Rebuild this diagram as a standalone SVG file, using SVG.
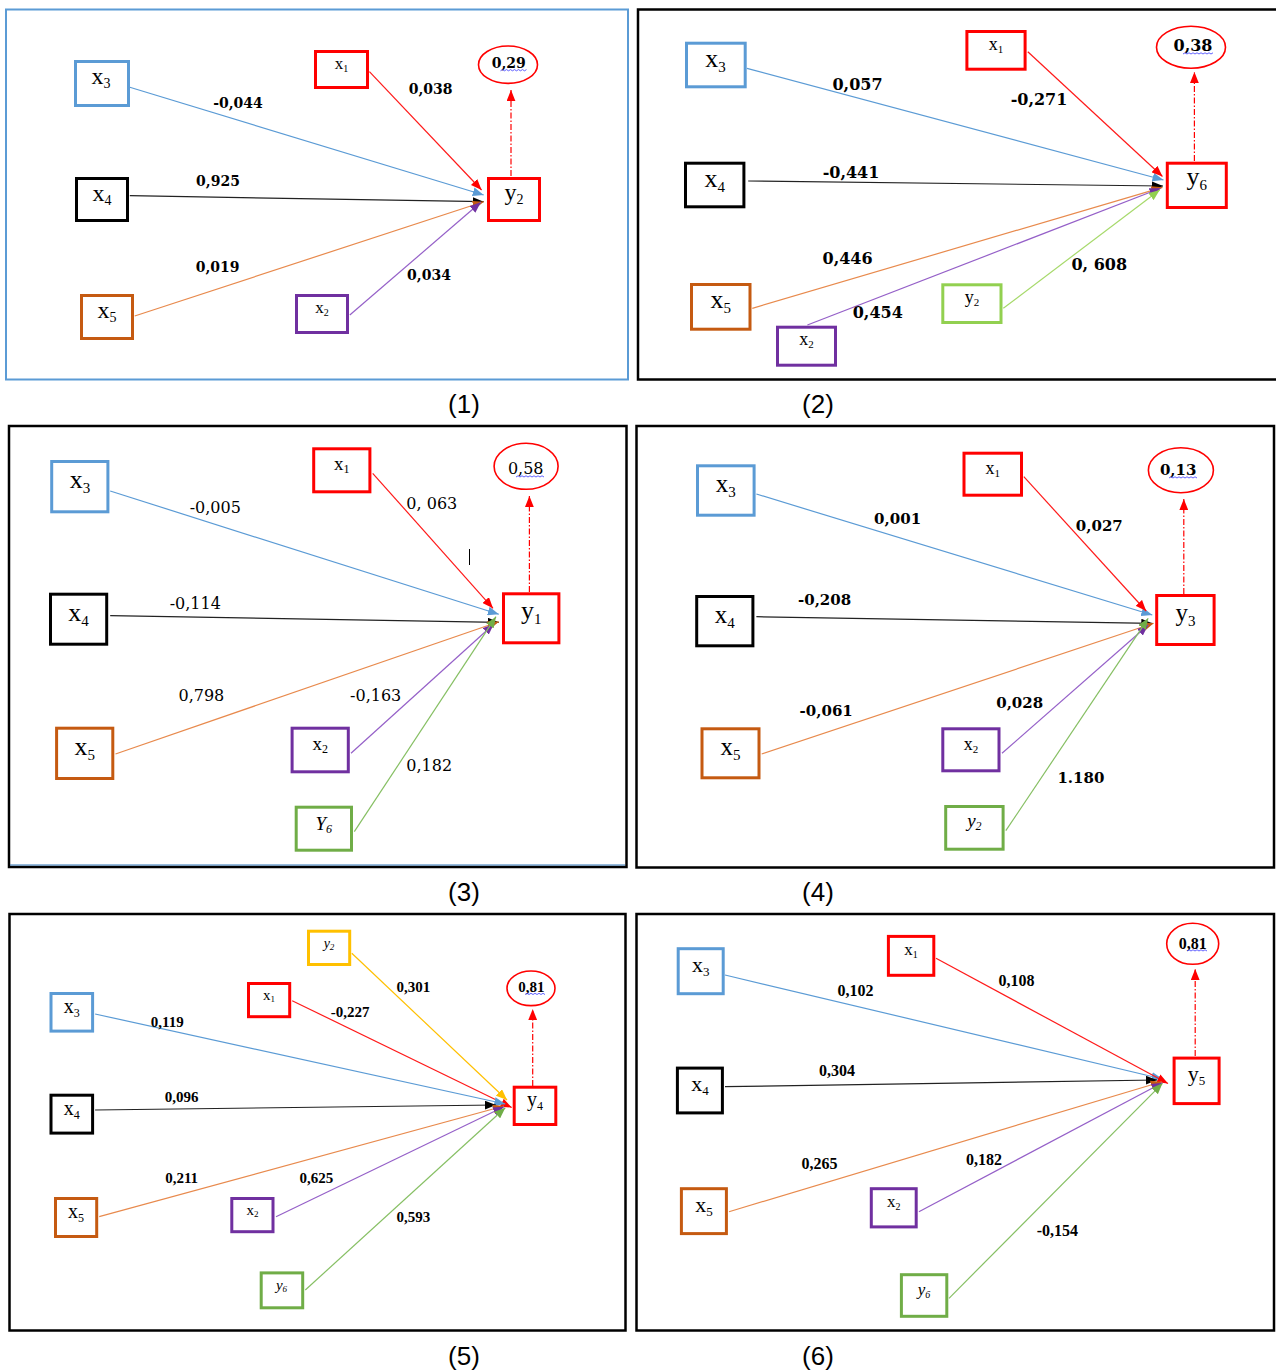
<svg xmlns="http://www.w3.org/2000/svg" width="1276" height="1371" viewBox="0 0 1276 1371">
<style>
.frame{fill:none;stroke:#000;stroke-width:2.5}
.bx{fill:#fff;stroke-width:3}
.blue{stroke:#5b9bd5}.black{stroke:#000}.orange{stroke:#c55a11}.red{stroke:#ff0000}.purple{stroke:#7030a0}.green{stroke:#70ad47}.lgreen{stroke:#92d050}.yellow{stroke:#ffc000}
.e{fill:none;stroke-width:1.2}
.eb{stroke:#5b9bd5;marker-end:url(#mb)}.er{stroke:#ff1a1a;marker-end:url(#mr)}.ek{stroke:#222;marker-end:url(#mk)}.eo{stroke:#e88a4d;marker-end:url(#mo)}.ep{stroke:#9560c8;marker-end:url(#mp)}.eg{stroke:#86bf63;marker-end:url(#mg)}.elg{stroke:#a6d96a;marker-end:url(#mlg)}.ey{stroke:#ffc000;marker-end:url(#my)}
.dash{fill:none;stroke:#ff0000;stroke-width:1.2;stroke-dasharray:6 2 1.5 2;marker-end:url(#mr)}
.oval{fill:#fff;stroke:#ff0000;stroke-width:1.6}
.nl{font-family:"Liberation Serif",serif;fill:#000;text-anchor:middle}
.db{font-family:"DejaVu Serif",serif;font-weight:bold;fill:#000;text-anchor:middle}
.dr{font-family:"DejaVu Serif",serif;fill:#000;text-anchor:middle}
.lb{font-family:"Liberation Serif",serif;font-weight:bold;fill:#000;text-anchor:middle}
.cap{font-family:"Liberation Sans",Arial,sans-serif;font-size:26px;fill:#000;text-anchor:middle}
.sq{fill:none;stroke:#3a3aff;stroke-width:0.8}
</style>
<defs>
<marker id="mb" viewBox="0 0 10 8" refX="10" refY="4" markerWidth="11" markerHeight="9" orient="auto" markerUnits="userSpaceOnUse"><path d="M0,0 L10,4 L0,8 z" fill="#5b9bd5"/></marker>
<marker id="mr" viewBox="0 0 10 8" refX="10" refY="4" markerWidth="11" markerHeight="9" orient="auto" markerUnits="userSpaceOnUse"><path d="M0,0 L10,4 L0,8 z" fill="#ff0000"/></marker>
<marker id="mk" viewBox="0 0 10 8" refX="10" refY="4" markerWidth="11" markerHeight="9" orient="auto" markerUnits="userSpaceOnUse"><path d="M0,0 L10,4 L0,8 z" fill="#000"/></marker>
<marker id="mo" viewBox="0 0 10 8" refX="10" refY="4" markerWidth="11" markerHeight="9" orient="auto" markerUnits="userSpaceOnUse"><path d="M0,0 L10,4 L0,8 z" fill="#c55a11"/></marker>
<marker id="mp" viewBox="0 0 10 8" refX="10" refY="4" markerWidth="11" markerHeight="9" orient="auto" markerUnits="userSpaceOnUse"><path d="M0,0 L10,4 L0,8 z" fill="#7030a0"/></marker>
<marker id="mg" viewBox="0 0 10 8" refX="10" refY="4" markerWidth="11" markerHeight="9" orient="auto" markerUnits="userSpaceOnUse"><path d="M0,0 L10,4 L0,8 z" fill="#70ad47"/></marker>
<marker id="mlg" viewBox="0 0 10 8" refX="10" refY="4" markerWidth="11" markerHeight="9" orient="auto" markerUnits="userSpaceOnUse"><path d="M0,0 L10,4 L0,8 z" fill="#92d050"/></marker>
<marker id="my" viewBox="0 0 10 8" refX="10" refY="4" markerWidth="11" markerHeight="9" orient="auto" markerUnits="userSpaceOnUse"><path d="M0,0 L10,4 L0,8 z" fill="#ffc000"/></marker>
</defs>
<rect x="0" y="0" width="1276" height="1371" fill="#fff"/>

<!-- PANEL 1 -->
<g id="panel1">
<rect x="6" y="9.5" width="622" height="370" fill="none" stroke="#5b9bd5" stroke-width="2"/>
<g id="p1-connectors">
<path class="e eb" d="M129.8,87.3 L483.7,195"/>
<path class="e er" d="M369.4,71.7 L481.6,190"/>
<path class="e ek" d="M129.8,195.7 L483.7,201.7"/>
<path class="e eo" d="M134.7,316 L483.7,201.7"/>
<path class="e ep" d="M349.8,315 L480.8,202.3"/>
<path class="dash" d="M511,176 L511,90"/>
</g>
<g id="p1-x3"><rect class="bx blue" x="75.5" y="61.5" width="53" height="44"/><text class="nl" x="101" y="84" font-size="24">x<tspan font-size="14" dy="4">3</tspan></text></g>
<g id="p1-x4"><rect class="bx black" x="76.5" y="178.5" width="51" height="42"/><text class="nl" x="102" y="200.5" font-size="24">x<tspan font-size="14" dy="4">4</tspan></text></g>
<g id="p1-x5"><rect class="bx orange" x="81.5" y="295.5" width="51" height="43"/><text class="nl" x="107" y="318" font-size="24">x<tspan font-size="14" dy="4">5</tspan></text></g>
<g id="p1-x1"><rect class="bx red" x="315.5" y="51.5" width="52" height="36"/><text class="nl" x="341.5" y="68.5" font-size="17">x<tspan font-size="10" dy="3">1</tspan></text></g>
<g id="p1-x2"><rect class="bx purple" x="296.5" y="295.5" width="51" height="37"/><text class="nl" x="322" y="313" font-size="17">x<tspan font-size="10" dy="3">2</tspan></text></g>
<g id="p1-y2"><rect class="bx red" x="488.5" y="178.5" width="51" height="42"/><text class="nl" x="514" y="199.5" font-size="24">y<tspan font-size="14" dy="4">2</tspan></text></g>
<g id="p1-r2"><ellipse class="oval" cx="508" cy="64.7" rx="29.5" ry="18.7" stroke-width="1.3"/><text class="db" x="508.7" y="68.3" font-size="14">0,29</text><path class="sq" d="M500.5,70.8 l2,-1.2 2,1.2 2,-1.2 2,1.2 2,-1.2 2,1.2 2,-1.2 2,1.2 2,-1.2 2,1.2 2,-1.2 2,1.2 2,-1.2"/></g>
<g id="p1-labels">
<text class="db" x="238" y="107.5" font-size="14">-0,044</text>
<text class="db" x="218" y="185.5" font-size="14">0,925</text>
<text class="db" x="217.6" y="271.5" font-size="14">0,019</text>
<text class="db" x="430.6" y="93.5" font-size="14">0,038</text>
<text class="db" x="429" y="279.5" font-size="14">0,034</text>
</g>
<text class="cap" x="464" y="413">(1)</text>
</g>

<!-- PANEL 2 -->
<g id="panel2">
<rect class="frame" x="638" y="9.5" width="640" height="370"/>
<g id="p2-connectors">
<path class="e eb" d="M747,68.3 L1163.5,180"/>
<path class="e er" d="M1027.8,51.7 L1162.5,176.5"/>
<path class="e ek" d="M748.2,181 L1163,186"/>
<path class="e eo" d="M752.3,308.3 L1162.5,187.3"/>
<path class="e ep" d="M807.4,325 L1160.5,188.3"/>
<path class="e elg" d="M1003.3,308.3 L1159.7,190"/>
<path class="dash" d="M1194.4,161 L1194.4,72"/>
</g>
<g id="p2-x3"><rect class="bx blue" x="686.5" y="43.2" width="58.7" height="43.6"/><text class="nl" x="715.6" y="66.5" font-size="26">x<tspan font-size="15" dy="5">3</tspan></text></g>
<g id="p2-x4"><rect class="bx black" x="685.5" y="163.2" width="58.4" height="43.6"/><text class="nl" x="714.7" y="186.5" font-size="26">x<tspan font-size="15" dy="5">4</tspan></text></g>
<g id="p2-x5"><rect class="bx orange" x="691.5" y="284.5" width="58.5" height="44.7"/><text class="nl" x="720.7" y="308" font-size="26">x<tspan font-size="15" dy="5">5</tspan></text></g>
<g id="p2-x2"><rect class="bx purple" x="777.5" y="327.2" width="58" height="38"/><text class="nl" x="806.5" y="345" font-size="18">x<tspan font-size="11" dy="3">2</tspan></text></g>
<g id="p2-y2"><rect class="bx lgreen" x="942.8" y="284.8" width="58.2" height="37.7"/><text class="nl" x="971.9" y="302.5" font-size="18">y<tspan font-size="11" dy="3">2</tspan></text></g>
<g id="p2-x1"><rect class="bx red" x="966.9" y="31.5" width="58.2" height="37.7"/><text class="nl" x="996" y="49.5" font-size="18">x<tspan font-size="11" dy="3">1</tspan></text></g>
<g id="p2-y6"><rect class="bx red" x="1167.3" y="163.2" width="59" height="44.3"/><text class="nl" x="1196.8" y="185" font-size="26">y<tspan font-size="15" dy="5">6</tspan></text></g>
<g id="p2-r2"><ellipse class="oval" cx="1191" cy="47.2" rx="34.5" ry="21" stroke-width="2"/><text class="db" x="1193" y="51" font-size="16">0,38</text><path class="sq" d="M1183,54 l2,-1.2 2,1.2 2,-1.2 2,1.2 2,-1.2 2,1.2 2,-1.2 2,1.2 2,-1.2 2,1.2 2,-1.2 2,1.2 2,-1.2 2,1.2 2,-1.2"/></g>
<g id="p2-labels">
<text class="db" x="857.5" y="90" font-size="16">0,057</text>
<text class="db" x="1039" y="105" font-size="16">-0,271</text>
<text class="db" x="851" y="177.5" font-size="16">-0,441</text>
<text class="db" x="847.6" y="263.5" font-size="16">0,446</text>
<text class="db" x="877.8" y="317.5" font-size="16">0,454</text>
<text class="db" x="1099.3" y="269.5" font-size="16">0, 608</text>
</g>
<text class="cap" x="818" y="413">(2)</text>
</g>

<!-- PANEL 3 -->
<g id="panel3">
<rect class="frame" x="9" y="426" width="617.5" height="441"/>
<line x1="10" y1="865" x2="625" y2="865" stroke="#2e75b6" stroke-width="1"/>
<g id="p3-connectors">
<path class="e eb" d="M110.2,491 L498.8,614.3"/>
<path class="e er" d="M372.7,473.3 L493,608.3"/>
<path class="e ek" d="M110.2,615.7 L498.8,622.3"/>
<path class="e eo" d="M115.5,754 L498.8,621.7"/>
<path class="e ep" d="M351,753.3 L493.9,624"/>
<path class="e eg" d="M354.3,831.7 L496,616.7"/>
<path class="dash" d="M529.4,592 L529.4,496"/>
</g>
<line x1="469.5" y1="549" x2="469.5" y2="565" stroke="#000" stroke-width="1"/>
<g id="p3-x3"><rect class="bx blue" x="51.7" y="461.5" width="56.2" height="50.3"/><text class="nl" x="80" y="488" font-size="26">x<tspan font-size="15" dy="5">3</tspan></text></g>
<g id="p3-x4"><rect class="bx black" x="50.5" y="594.2" width="56.2" height="50"/><text class="nl" x="78.6" y="620.5" font-size="26">x<tspan font-size="15" dy="5">4</tspan></text></g>
<g id="p3-x5"><rect class="bx orange" x="56.6" y="728.2" width="56.2" height="50.3"/><text class="nl" x="84.7" y="754.5" font-size="26">x<tspan font-size="15" dy="5">5</tspan></text></g>
<g id="p3-x1"><rect class="bx red" x="313.7" y="448.8" width="56.2" height="43"/><text class="nl" x="341.8" y="470" font-size="19">x<tspan font-size="12" dy="3">1</tspan></text></g>
<g id="p3-x2"><rect class="bx purple" x="292.1" y="728.2" width="56.2" height="43.6"/><text class="nl" x="320.2" y="750" font-size="19">x<tspan font-size="12" dy="3">2</tspan></text></g>
<g id="p3-Y6"><rect class="bx green" x="296.2" y="807.2" width="55.3" height="43"/><text class="nl" x="323.8" y="829.5" font-size="19" font-style="italic">Y<tspan font-size="12" dy="3">6</tspan></text></g>
<g id="p3-y1"><rect class="bx red" x="503.5" y="593.8" width="55.4" height="49"/><text class="nl" x="531.2" y="619" font-size="26">y<tspan font-size="15" dy="5">1</tspan></text></g>
<g id="p3-r2"><ellipse class="oval" cx="526.1" cy="466.3" rx="32" ry="23" stroke-width="1.4"/><text class="dr" x="525.7" y="473.5" font-size="16">0,58</text><path class="sq" d="M516,477 l2,-1.2 2,1.2 2,-1.2 2,1.2 2,-1.2 2,1.2 2,-1.2 2,1.2 2,-1.2 2,1.2 2,-1.2 2,1.2 2,-1.2 2,1.2"/></g>
<g id="p3-labels">
<text class="dr" x="215.3" y="512.5" font-size="16">-0,005</text>
<text class="dr" x="431.8" y="509" font-size="16">0, 063</text>
<text class="dr" x="195.3" y="609" font-size="16">-0,114</text>
<text class="dr" x="201.4" y="700.5" font-size="16">0,798</text>
<text class="dr" x="375.7" y="700.5" font-size="16">-0,163</text>
<text class="dr" x="429.2" y="770.5" font-size="16">0,182</text>
</g>
<text class="cap" x="464" y="901">(3)</text>
</g>

<!-- PANEL 4 -->
<g id="panel4">
<rect class="frame" x="636.5" y="426" width="637.5" height="441.5"/>
<g id="p4-connectors">
<path class="e eb" d="M756.4,494 L1152.3,615"/>
<path class="e er" d="M1023.8,476.7 L1146.2,611"/>
<path class="e ek" d="M756.4,616.7 L1152.3,623.3"/>
<path class="e eo" d="M761.7,754 L1153.6,623.3"/>
<path class="e ep" d="M1002,753.3 L1148.2,625"/>
<path class="e eg" d="M1005.8,830.7 L1148.2,618.3"/>
<path class="dash" d="M1183.8,594 L1183.8,499"/>
</g>
<g id="p4-x3"><rect class="bx blue" x="697.5" y="465.8" width="56.6" height="49.4"/><text class="nl" x="725.8" y="492" font-size="25">x<tspan font-size="15" dy="5">3</tspan></text></g>
<g id="p4-x4"><rect class="bx black" x="696.7" y="596.5" width="56.2" height="49.3"/><text class="nl" x="724.8" y="622.5" font-size="25">x<tspan font-size="15" dy="5">4</tspan></text></g>
<g id="p4-x5"><rect class="bx orange" x="702" y="728.8" width="57" height="49"/><text class="nl" x="730.5" y="754.5" font-size="25">x<tspan font-size="15" dy="5">5</tspan></text></g>
<g id="p4-x1"><rect class="bx red" x="964" y="453.2" width="57.5" height="42"/><text class="nl" x="992.8" y="473.5" font-size="18">x<tspan font-size="11" dy="3">1</tspan></text></g>
<g id="p4-x2"><rect class="bx purple" x="942.8" y="728.8" width="56.2" height="42"/><text class="nl" x="970.9" y="749.5" font-size="18">x<tspan font-size="11" dy="3">2</tspan></text></g>
<g id="p4-y2"><rect class="bx green" x="945.7" y="806.5" width="57.4" height="42.7"/><text class="nl" x="974.4" y="827" font-size="19" font-style="italic">y<tspan font-size="12" dy="3">2</tspan></text></g>
<g id="p4-y3"><rect class="bx red" x="1156.7" y="595.5" width="57.4" height="49"/><text class="nl" x="1185.4" y="620.5" font-size="25">y<tspan font-size="15" dy="5">3</tspan></text></g>
<g id="p4-r2"><ellipse class="oval" cx="1180.9" cy="470.2" rx="32.5" ry="22.5" stroke-width="2"/><text class="db" x="1178.2" y="475" font-size="15">0,13</text><path class="sq" d="M1169,478 l2,-1.2 2,1.2 2,-1.2 2,1.2 2,-1.2 2,1.2 2,-1.2 2,1.2 2,-1.2 2,1.2 2,-1.2 2,1.2 2,-1.2 2,1.2"/></g>
<g id="p4-labels">
<text class="db" x="897.6" y="524" font-size="15">0,001</text>
<text class="db" x="1099.3" y="530.5" font-size="15">0,027</text>
<text class="db" x="824.6" y="605" font-size="15">-0,208</text>
<text class="db" x="826.2" y="716" font-size="15">-0,061</text>
<text class="db" x="1019.7" y="708" font-size="15">0,028</text>
<text class="db" x="1080.9" y="782.5" font-size="15">1.180</text>
</g>
<text class="cap" x="818" y="901">(4)</text>
</g>

<!-- PANEL 5 -->
<g id="panel5">
<rect class="frame" x="9.5" y="914" width="616" height="416.5"/>
<g id="p5-connectors">
<path class="e ey" d="M351.8,953.3 L507,1100"/>
<path class="e er" d="M292.2,1000.7 L511.7,1107.5"/>
<path class="e eb" d="M95.1,1014 L505.3,1104"/>
<path class="e ek" d="M95.1,1110 L496,1105"/>
<path class="e eo" d="M99.2,1216.7 L504,1106"/>
<path class="e ep" d="M276,1216.7 L504,1106.7"/>
<path class="e eg" d="M305.3,1290 L505.3,1107.7"/>
<path class="dash" d="M532.7,1086 L532.7,1009"/>
</g>
<g id="p5-y2"><rect class="bx yellow" x="308.5" y="931.2" width="41.2" height="33.3" stroke-width="2.5"/><text class="nl" x="329" y="947.5" font-size="14" font-style="italic">y<tspan font-size="9" dy="2.5">2</tspan></text></g>
<g id="p5-x1"><rect class="bx red" x="248.5" y="983.5" width="41.2" height="33.2" stroke-width="2.5"/><text class="nl" x="269" y="999.5" font-size="15">x<tspan font-size="9" dy="2.5">1</tspan></text></g>
<g id="p5-x3"><rect class="bx blue" x="51" y="993.5" width="41.6" height="37.6" stroke-width="2.5"/><text class="nl" x="71.8" y="1012.5" font-size="20">x<tspan font-size="12" dy="4">3</tspan></text></g>
<g id="p5-x4"><rect class="bx black" x="51" y="1095.2" width="41.6" height="37.9" stroke-width="2.5"/><text class="nl" x="71.8" y="1114.5" font-size="20">x<tspan font-size="12" dy="4">4</tspan></text></g>
<g id="p5-x5"><rect class="bx orange" x="55.5" y="1198.5" width="41.2" height="38" stroke-width="2.5"/><text class="nl" x="76" y="1218" font-size="20">x<tspan font-size="12" dy="4">5</tspan></text></g>
<g id="p5-x2"><rect class="bx purple" x="231.8" y="1198.5" width="41.2" height="33.2" stroke-width="2.5"/><text class="nl" x="252.4" y="1214.5" font-size="15">x<tspan font-size="9" dy="2.5">2</tspan></text></g>
<g id="p5-y6"><rect class="bx green" x="261.2" y="1272.9" width="41.5" height="34.9" stroke-width="2.5"/><text class="nl" x="281.5" y="1289.5" font-size="15" font-style="italic">y<tspan font-size="9" dy="2.5">6</tspan></text></g>
<g id="p5-y4"><rect class="bx red" x="514.2" y="1087.2" width="41.6" height="37.3" stroke-width="2.5"/><text class="nl" x="535" y="1105.5" font-size="20">y<tspan font-size="12" dy="4">4</tspan></text></g>
<g id="p5-r2"><ellipse class="oval" cx="531" cy="988.3" rx="24" ry="17.3" stroke-width="1.3"/><text class="lb" x="531.3" y="992" font-size="15">0,81</text><path class="sq" d="M525,994.5 l2,-1.2 2,1.2 2,-1.2 2,1.2 2,-1.2 2,1.2 2,-1.2 2,1.2 2,-1.2 2,1.2"/></g>
<g id="p5-labels">
<text class="lb" x="413.3" y="991.5" font-size="15">0,301</text>
<text class="lb" x="350.2" y="1016.5" font-size="15">-0,227</text>
<text class="lb" x="167.3" y="1026.5" font-size="15">0,119</text>
<text class="lb" x="181.6" y="1101.5" font-size="15">0,096</text>
<text class="lb" x="181.6" y="1182.5" font-size="15">0,211</text>
<text class="lb" x="316.3" y="1182.5" font-size="15">0,625</text>
<text class="lb" x="413.3" y="1221.5" font-size="15">0,593</text>
</g>
<text class="cap" x="464" y="1365">(5)</text>
</g>

<!-- PANEL 6 -->
<g id="panel6">
<rect class="frame" x="636.5" y="914" width="637.5" height="416.5"/>
<g id="p6-connectors">
<path class="e eb" d="M725,975 L1162.5,1079"/>
<path class="e er" d="M936,958.3 L1168,1083.5"/>
<path class="e ek" d="M725,1086.7 L1157,1080"/>
<path class="e eo" d="M729,1211.7 L1161.7,1081.7"/>
<path class="e ep" d="M918.9,1211.7 L1162.5,1082.7"/>
<path class="e eg" d="M949,1298.3 L1162.5,1083.3"/>
<path class="dash" d="M1195.2,1056 L1195.2,969"/>
</g>
<g id="p6-x3"><rect class="bx blue" x="678.2" y="948.7" width="45" height="45"/><text class="nl" x="700.7" y="971.5" font-size="22">x<tspan font-size="13" dy="4">3</tspan></text></g>
<g id="p6-x4"><rect class="bx black" x="677.4" y="1068.1" width="45" height="44.8"/><text class="nl" x="699.9" y="1091" font-size="22">x<tspan font-size="13" dy="4">4</tspan></text></g>
<g id="p6-x5"><rect class="bx orange" x="681.4" y="1188.7" width="45" height="44.9"/><text class="nl" x="703.9" y="1211.5" font-size="22">x<tspan font-size="13" dy="4">5</tspan></text></g>
<g id="p6-x1"><rect class="bx red" x="888.4" y="936.4" width="45.4" height="38.9"/><text class="nl" x="911.1" y="955" font-size="17">x<tspan font-size="10" dy="3">1</tspan></text></g>
<g id="p6-x2"><rect class="bx purple" x="871.3" y="1188.7" width="44.9" height="38.2"/><text class="nl" x="893.7" y="1207" font-size="17">x<tspan font-size="10" dy="3">2</tspan></text></g>
<g id="p6-y6"><rect class="bx green" x="901.4" y="1274.7" width="45.4" height="41.6"/><text class="nl" x="924.1" y="1295" font-size="17" font-style="italic">y<tspan font-size="10" dy="3">6</tspan></text></g>
<g id="p6-y5"><rect class="bx red" x="1174.1" y="1058.1" width="45" height="45.5"/><text class="nl" x="1196.6" y="1080.5" font-size="22">y<tspan font-size="13" dy="4">5</tspan></text></g>
<g id="p6-r2"><ellipse class="oval" cx="1192.7" cy="943.8" rx="26" ry="20.5" stroke-width="1.8"/><text class="lb" x="1192.7" y="948.5" font-size="16">0,81</text><path class="sq" d="M1187,951 l2,-1.2 2,1.2 2,-1.2 2,1.2 2,-1.2 2,1.2 2,-1.2 2,1.2 2,-1.2 2,1.2"/></g>
<g id="p6-labels">
<text class="lb" x="855.4" y="996" font-size="16">0,102</text>
<text class="lb" x="1016.6" y="986" font-size="16">0,108</text>
<text class="lb" x="837" y="1075.5" font-size="16">0,304</text>
<text class="lb" x="819.5" y="1169" font-size="16">0,265</text>
<text class="lb" x="984" y="1164.5" font-size="16">0,182</text>
<text class="lb" x="1057.4" y="1236" font-size="16">-0,154</text>
</g>
<text class="cap" x="818" y="1365">(6)</text>
</g>
</svg>
